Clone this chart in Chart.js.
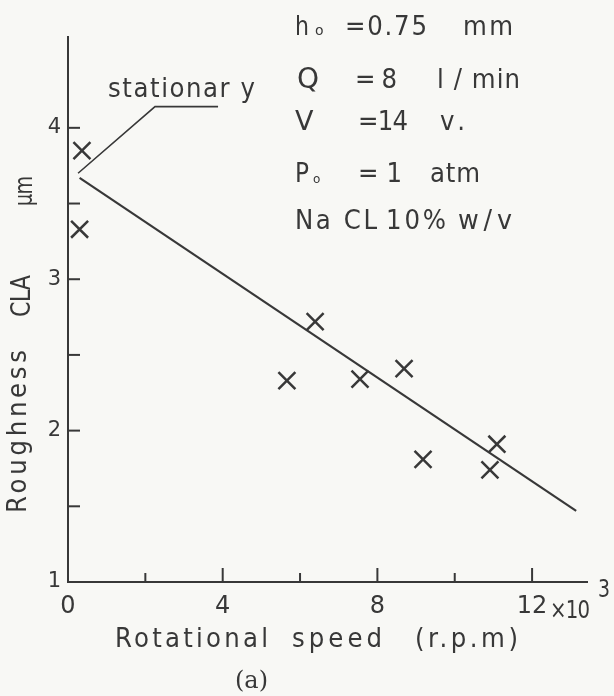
<!DOCTYPE html>
<html>
<head>
<meta charset="utf-8">
<script src="https://cdn.jsdelivr.net/npm/chart.js@4/dist/chart.umd.min.js"></script>
<style>
  html, body { margin: 0; padding: 0; background: #f8f8f5; }
  #wrap { width: 614px; height: 696px; position: relative; }
</style>
</head>
<body>
<div id="wrap"><canvas id="c"></canvas></div>
<script>
  // measured points (x in 10^3 r.p.m, y in µm)
  const speedK = [0.36, 0.3, 5.66, 6.39, 7.55, 8.69, 9.18, 11.09, 10.91];
  const roughness = [3.85, 3.33, 2.33, 2.72, 2.34, 2.41, 1.81, 1.91, 1.74];

  // fitted line ends
  const fitX = [0.3, 13.14];
  const fitY = [3.67, 1.47];

  // "stationary" leader line
  const leaderX = [0.26, 2.25, 3.88];
  const leaderY = [3.7, 4.14, 4.14];

  const xLabelTicks = [0, 4, 8, 12];
  const yLabelTicks = [1, 2, 3, 4];
  const xTickMarks = [2, 4, 6, 8, 10, 12];
  const yTickMarks = [1.5, 2, 2.5, 3, 3.5, 4];

  const ink = "#383838";
  const font = "'DejaVu Sans', sans-serif";

  // text pieces: text, left x, baseline y, width, size
  const labels = [
    ["stationar y", 108, 97, 147, 26],
    ["h", 295, 35, 14, 27], ["o", 315, 35, 10, 14], ["=0.75", 345, 35, 82, 26], ["mm", 463, 35, 50, 26],
    ["Q", 297, 88, 25, 28], ["= 8", 355, 88, 42, 26], ["l / min", 437, 88, 83, 26],
    ["V", 295, 130, 20, 27], ["=14", 358, 130, 50, 26], ["v.", 440, 130, 25, 26],
    ["P", 295, 182, 14, 27], ["o", 313, 183, 8, 12], ["= 1", 358, 182, 44, 26], ["atm", 430, 182, 50, 26],
    ["Na CL", 295, 229, 82, 26], ["10%", 386, 229, 60, 26], ["w/v", 458, 229, 54, 27],
    ["Rotational", 115, 647, 153, 26], ["speed", 292, 647, 90, 26], ["(r.p.m)", 415, 647, 103, 26],
    ["×10", 550, 618, 40, 24], ["3", 598, 597, 12, 24],
  ];
  // rotated: text, bottom y, baseline x, length, size
  const yTitle = [
    ["Roughness", 513, 26, 163, 26],
    ["CLA", 317, 30, 42, 27],
    ["µm", 206, 32, 30, 25],
  ];

  // squeeze or space a piece of text to the width
  function fitText(ctx, t, w, size) {
    ctx.font = size + "px " + font;
    ctx.letterSpacing = "0px";
    const n = [...t].length;
    const nat = ctx.measureText(t).width;
    let sx = 0.94;
    let sp = n > 1 ? (w / sx - nat) / (n - 1) : 0;
    if (sp < -1) {
      sp = -1;
      sx = w / (nat + (n - 1) * sp);
    }
    if (n === 1) sx = Math.min(1, w / nat);
    ctx.scale(sx, 1);
    ctx.letterSpacing = sp + "px";
    ctx.fillText(t, 0, 0);
  }

  const decor = {
    id: "decor",
    afterDraw(chart) {
      const { ctx, chartArea: a } = chart;
      const xs = chart.scales.x, ys = chart.scales.y;
      ctx.save();
      ctx.strokeStyle = ink;
      ctx.fillStyle = ink;
      ctx.lineWidth = 2;
      // inward tick marks
      xTickMarks.forEach((v) => {
        const px = xs.getPixelForValue(v);
        const len = v % 4 === 0 ? 14 : 9;
        ctx.beginPath();
        ctx.moveTo(px, a.bottom);
        ctx.lineTo(px, a.bottom - len);
        ctx.stroke();
      });
      yTickMarks.forEach((v) => {
        const py = ys.getPixelForValue(v);
        ctx.beginPath();
        ctx.moveTo(a.left, py);
        ctx.lineTo(a.left + 12, py);
        ctx.stroke();
      });

      ctx.textBaseline = "alphabetic";
      ctx.textAlign = "left";
      labels.forEach(([t, x, y, w, size]) => {
        ctx.save();
        ctx.translate(x, y);
        fitText(ctx, t, w, size);
        ctx.restore();
      });

      ctx.font = "24px 'DejaVu Serif', serif";
      ctx.letterSpacing = "0px";
      ctx.fillText("(a)", 235, 688, 48);

      yTitle.forEach(([t, yb, xb, w, size]) => {
        ctx.save();
        ctx.translate(xb, yb);
        ctx.rotate(-Math.PI / 2);
        fitText(ctx, t, w, size);
        ctx.restore();
      });
      ctx.restore();
    },
  };

  new Chart(document.getElementById("c"), {
    type: "scatter",
    data: {
      datasets: [
        {
          data: speedK.map((x, i) => ({ x, y: roughness[i] })),
          pointStyle: "crossRot",
          pointRadius: 12,
          borderColor: ink,
          borderWidth: 2.5,
        },
        {
          type: "line",
          data: fitX.map((x, i) => ({ x, y: fitY[i] })),
          borderColor: ink,
          borderWidth: 2.2,
          pointRadius: 0,
          fill: false,
        },
        {
          type: "line",
          data: leaderX.map((x, i) => ({ x, y: leaderY[i] })),
          borderColor: ink,
          borderWidth: 1.6,
          pointRadius: 0,
          fill: false,
        },
      ],
    },
    options: {
      responsive: true,
      maintainAspectRatio: false,
      animation: false,
      layout: { padding: { top: 37, right: 27, left: 0, bottom: 0 } },
      plugins: { legend: { display: false }, tooltip: { enabled: false } },
      scales: {
        x: {
          type: "linear",
          min: 0,
          max: 13.42,
          afterBuildTicks: (s) => { s.ticks = xLabelTicks.map((value) => ({ value })); },
          afterFit: (s) => { s.height = 114; },
          grid: { display: false, drawTicks: false },
          border: { display: true, color: ink, width: 2 },
          ticks: { color: ink, font: { size: 24, family: font }, padding: 10, maxRotation: 0 },
        },
        y: {
          type: "linear",
          min: 1,
          max: 4.6,
          afterBuildTicks: (s) => { s.ticks = yLabelTicks.map((value) => ({ value })); },
          afterFit: (s) => { s.width = 68; },
          grid: { display: false, drawTicks: false },
          border: { display: true, color: ink, width: 2 },
          ticks: { color: ink, font: { size: 21, family: font }, padding: 7 },
        },
      },
    },
    plugins: [decor],
  });
</script>
</body>
</html>
